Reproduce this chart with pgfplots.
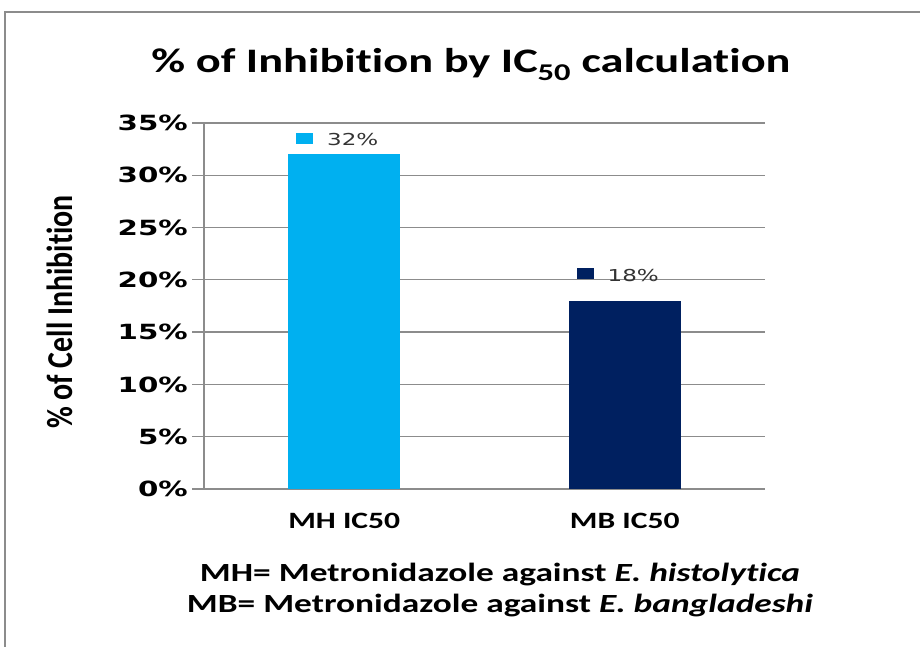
\documentclass[border=0pt]{standalone}
\usepackage{fontspec}
\usepackage{graphicx}
\usepackage{pgfplots}
\pgfplotsset{compat=1.18}
\setmainfont{Carlito}[FakeStretch=1.35, Ligatures=NoCommon]
\newfontfamily\carlitoplain{Carlito}[Ligatures=NoCommon]
\newfontfamily\dvb{DejaVu Sans}[FakeStretch=1.4]
\newfontfamily\dvr{DejaVu Sans}[FakeStretch=1.4]
\definecolor{lblue}{HTML}{00B0F0}
\definecolor{navy}{HTML}{002060}
\definecolor{gridgray}{HTML}{8C8C8C}
\begin{document}
\begin{tikzpicture}[x=1bp,y=1bp]
\useasboundingbox (0,0) rectangle (920,647);
\draw[gridgray, line width=2bp] (5,-50) -- (5,635) -- (1000,635);
\node[anchor=base, font=\fontsize{34.5}{40}\selectfont\bfseries] at (471,574) {\% of Inhibition by IC\textsubscript{50} calculation};
\begin{axis}[at={(204bp,158bp)}, anchor=south west, scale only axis,
  width=561bp, height=366bp,
  xmin=-0.5, xmax=1.5, ymin=0, ymax=35,
  xtick={0,1}, xticklabels={MH IC50, MB IC50},
  ytick={0,5,10,15,20,25,30,35},
  yticklabels={0\%,5\%,10\%,15\%,20\%,25\%,30\%,35\%},
  ymajorgrids, grid style={gridgray, line width=1.3bp},
  axis lines*=left,
  axis line style={gridgray, line width=1.3bp},
  tick align=outside, major tick length=12bp,
  ytick style={gridgray, line width=1.3bp},
  xtick style={draw=none},
  yticklabel style={font=\dvb\bfseries\fontsize{21}{24}\selectfont, inner sep=0pt, anchor=east, xshift=-4bp},
  xticklabel style={font=\bfseries\fontsize{23.5}{28}\selectfont, inner sep=0pt, anchor=north, yshift=-12bp},
  clip=false,
]
\addplot[ybar, bar width=112bp, bar shift=0pt, fill=lblue, draw=none,
  nodes near coords={\textcolor{lblue}{\raisebox{2bp}{\rule{17bp}{11bp}}}\hspace{14bp}\dvr\fontsize{16.5}{20}\selectfont\pgfmathprintnumber[assume math mode=true]{\pgfplotspointmeta}\%},
  every node near coord/.append style={anchor=south, inner sep=0pt, yshift=8bp, xshift=-7bp, text=black!80}]
  coordinates {(0,32)};
\addplot[ybar, bar width=112bp, bar shift=0pt, fill=navy, draw=none,
  nodes near coords={\textcolor{navy}{\raisebox{2bp}{\rule{17bp}{11bp}}}\hspace{14bp}\dvr\fontsize{16.5}{20}\selectfont\pgfmathprintnumber[assume math mode=true]{\pgfplotspointmeta}\%},
  every node near coord/.append style={anchor=south, inner sep=0pt, yshift=19bp, xshift=-7bp, text=black!80}]
  coordinates {(1,18)};
\end{axis}
\node[rotate=90, font=\carlitoplain\bfseries\fontsize{30}{34}\selectfont] at (60,335) {\scalebox{1}[1.22]{\% of Cell Inhibition}};
\node[anchor=base, font=\fontsize{26.3}{30}\selectfont\bfseries] at (500,65) {MH= Metronidazole against \textit{E. histolytica}};
\node[anchor=base, font=\fontsize{26.3}{30}\selectfont\bfseries] at (500,34) {MB= Metronidazole against \textit{E. bangladeshi}};
\end{tikzpicture}
\end{document}
